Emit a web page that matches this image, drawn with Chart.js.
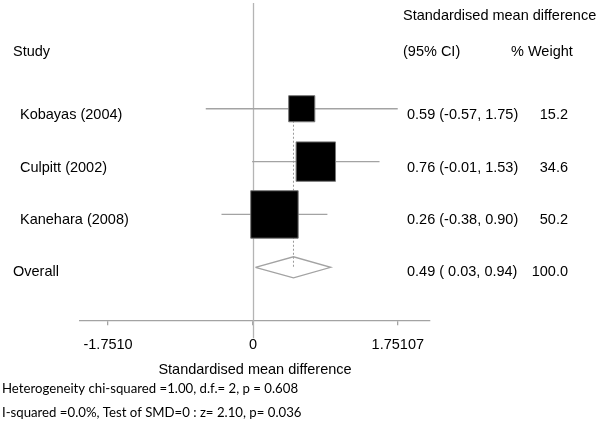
<!DOCTYPE html>
<html>
<head>
<meta charset="utf-8">
<script src="https://cdn.jsdelivr.net/npm/chart.js@4"></script>
<style>
  html, body { margin: 0; padding: 0; background: #fff; }
</style>
</head>
<body>
<canvas id="forest" width="600" height="424"></canvas>
<script>
// Date
const studies = ['Kobayas (2004)', 'Culpitt (2002)', 'Kanehara (2008)'];
const smd = [0.59, 0.76, 0.26];
const ciLow = [-0.57, -0.01, -0.38];
const ciHigh = [1.75, 1.53, 0.90];
const weights = [15.2, 34.6, 50.2];
const overallLabel = 'Overall';
const overallSmd = 0.49;
const overallLow = 0.03;
const overallHigh = 0.94;
const overallWeight = 100.0;
const xTicks = [-1.7510, 0, 1.75107];
const xTickLabels = ['-1.7510', '0', '1.75107'];
const footnotes = [
    'Heterogeneity chi-squared =1.00, d.f.= 2, p = 0.608',
    'I-squared =0.0%, Test of SMD=0 : z= 2.10, p= 0.036'
];

// Stil
const ARIAL = '"Liberation Sans", Arial, sans-serif';
const FONT_SIZE = 14.5;
const LINE_GREY = '#a3a3a3';
const rows = studies.map((s, i) => i + 1);
const overallRow = studies.length + 1;
const diamondHalf = 0.2;

const fmtLow = (v) => (v < 0 ? v.toFixed(2) : ' ' + v.toFixed(2));
const ciText = (est, lo, hi) => `${est.toFixed(2)} (${fmtLow(lo)}, ${hi.toFixed(2)})`;

// Linii CI pentru fiecare studiu
const ciDatasets = studies.map((s, i) => ({
    type: 'line',
    data: [{ x: ciLow[i], y: rows[i] }, { x: ciHigh[i], y: rows[i] }],
    borderColor: LINE_GREY,
    borderWidth: 1.3,
    pointRadius: 0,
    showLine: true
}));

// Text + linia zero
const forestText = {
    id: 'forestText',
    beforeDatasetsDraw(chart) {
        const { ctx, chartArea, scales } = chart;
        const x0 = Math.round(scales.x.getPixelForValue(0)) + 0.5;
        ctx.save();
        ctx.strokeStyle = '#b4b4b4';
        ctx.lineWidth = 1.3;
        ctx.beginPath();
        ctx.moveTo(x0, chartArea.top);
        ctx.lineTo(x0, chartArea.bottom + 18);
        ctx.stroke();
        ctx.restore();
    },
    afterDraw(chart) {
        const { ctx, scales } = chart;
        const y = scales.y;
        ctx.save();
        ctx.fillStyle = '#000';
        ctx.textBaseline = 'middle';
        ctx.font = `${FONT_SIZE}px ${ARIAL}`;

        ctx.textAlign = 'left';
        ctx.fillText('Standardised mean difference', 403, 16);
        ctx.fillText('Study', 13, 52);
        ctx.fillText('(95% CI)', 403, 52);
        ctx.fillText('% Weight', 511, 52);

        studies.forEach((s, i) => {
            const py = y.getPixelForValue(rows[i]) + 6;
            ctx.textAlign = 'left';
            ctx.fillText(s, 20, py);
            ctx.fillText(ciText(smd[i], ciLow[i], ciHigh[i]), 407, py);
            ctx.textAlign = 'right';
            ctx.fillText(weights[i].toFixed(1), 568, py);
        });

        const po = y.getPixelForValue(overallRow) + 5;
        ctx.textAlign = 'left';
        ctx.fillText(overallLabel, 13, po);
        ctx.fillText(ciText(overallSmd, overallLow, overallHigh), 407, po);
        ctx.textAlign = 'right';
        ctx.fillText(overallWeight.toFixed(1), 568, po);

        // Note jos
        ctx.textAlign = 'left';
        ctx.font = '13.2px Lato, "Open Sans", sans-serif';
        ctx.fillText(footnotes[0], 2, 389);
        ctx.fillText(footnotes[1], 2, 413);
        ctx.restore();
    }
};

const ctx = document.getElementById('forest').getContext('2d');
new Chart(ctx, {
    type: 'scatter',
    data: {
        datasets: [
            {
                // Pătratele, aria proporțională cu ponderea
                data: smd.map((v, i) => ({ x: v, y: rows[i] })),
                pointStyle: 'rect',
                pointRadius: weights.map(w => 6.7 * Math.sqrt(w) / Math.SQRT2),
                backgroundColor: '#000',
                borderColor: '#777',
                borderWidth: 1
            },
            {
                // Romb pentru efectul global
                type: 'line',
                data: [
                    { x: overallLow, y: overallRow },
                    { x: overallSmd, y: overallRow - diamondHalf },
                    { x: overallHigh, y: overallRow },
                    { x: overallSmd, y: overallRow + diamondHalf },
                    { x: overallLow, y: overallRow }
                ],
                borderColor: LINE_GREY,
                borderWidth: 1.3,
                pointRadius: 0,
                fill: false,
                showLine: true
            },
            {
                // Linia punctată la estimarea globală
                type: 'line',
                data: [{ x: overallSmd, y: rows[0] }, { x: overallSmd, y: overallRow }],
                borderColor: '#999',
                borderWidth: 1,
                borderDash: [2, 2],
                pointRadius: 0,
                showLine: true
            },
            ...ciDatasets
        ]
    },
    options: {
        responsive: false,
        animation: false,
        devicePixelRatio: 1,
        layout: { autoPadding: false, padding: { left: 80, right: 170, top: 3, bottom: 41 } },
        plugins: {
            legend: { display: false },
            tooltip: { enabled: false }
        },
        scales: {
            x: {
                type: 'linear',
                min: -2.09,
                max: 2.14,
                afterBuildTicks: (scale) => {
                    scale.ticks = xTicks.map(v => ({ value: v }));
                },
                ticks: {
                    callback: (v, i) => xTickLabels[i],
                    color: '#000',
                    font: { family: ARIAL, size: FONT_SIZE },
                    padding: 11,
                    maxRotation: 0,
                    autoSkip: false
                },
                grid: { drawOnChartArea: false, tickLength: 5, color: LINE_GREY, lineWidth: 1.3 },
                border: { color: LINE_GREY, width: 1.3 },
                title: {
                    display: true,
                    text: 'Standardised mean difference',
                    color: '#000',
                    font: { family: ARIAL, size: FONT_SIZE },
                    padding: { top: -3, bottom: 4 }
                }
            },
            y: { display: false, min: -1, max: 5, reverse: true }
        }
    },
    plugins: [forestText]
});
</script>
</body>
</html>
